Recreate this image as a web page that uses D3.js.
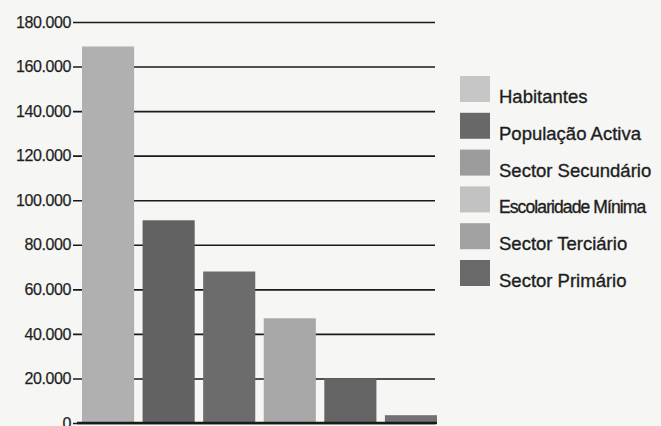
<!DOCTYPE html>
<html>
<head>
<meta charset="utf-8">
<script src="https://cdn.jsdelivr.net/npm/d3@7"></script>
<style>
  body { margin: 0; background: #f6f6f4; }
  text { font-family: "Liberation Sans", Arial, sans-serif; fill: #1e1e1e; }
</style>
</head>
<body>
<svg id="chart" width="661" height="426"></svg>
<script>
const categories = ["Habitantes", "População Activa", "Sector Secundário", "Escolaridade Mínima", "Sector Terciário", "Sector Primário"];
const values = [169000, 91000, 68000, 47000, 20000, 3500];
const tickValues = [0, 20000, 40000, 60000, 80000, 100000, 120000, 140000, 160000, 180000];
const barColors = ["#b0b0b0", "#626262", "#6c6c6c", "#a8a8a8", "#646464", "#727272"];
const legendColors = ["#c6c6c6", "#686868", "#9c9c9c", "#c2c2c2", "#a2a2a2", "#6a6a6a"];

const svg = d3.select("#chart");
const width = +svg.attr("width");
const height = +svg.attr("height");

const margin = { top: 22, bottom: 3, left: 73, right: 224 };

const x = d3.scaleBand()
  .domain(categories)
  .range([82, 437])
  .paddingInner(0.14)
  .paddingOuter(0);

const y = d3.scaleLinear()
  .domain([0, 180000])
  .range([height - margin.bottom, margin.top]);

const fmt = (d) => d === 0 ? "0" : d3.format(",")(d).replace(/,/g, ".");

// grid lines (drawn first, bars go on top)
const yAxis = d3.axisLeft(y)
  .tickValues(tickValues)
  .tickFormat(fmt)
  .tickSize(-(435 - margin.left))
  .tickPadding(2);

const yAxisG = svg.append("g")
  .attr("transform", `translate(${margin.left},0)`)
  .call(yAxis);
yAxisG.select(".domain").remove();
yAxisG.selectAll("line").attr("stroke", "#1a1a1a").attr("stroke-width", 1.6);
yAxisG.selectAll("text")
  .attr("font-size", 16)
  .attr("letter-spacing", -0.4)
  .attr("fill", "#2a2a2a")
  .attr("stroke", "#2a2a2a")
  .attr("stroke-width", 0.25);

// bars
svg.append("g")
  .selectAll("rect")
  .data(values)
  .join("rect")
  .attr("x", (d, i) => x(categories[i]))
  .attr("y", (d) => y(d))
  .attr("width", x.bandwidth())
  .attr("height", (d) => y(0) - y(d))
  .attr("fill", (d, i) => barColors[i]);

// baseline
svg.append("line")
  .attr("x1", margin.left + 4)
  .attr("x2", 437)
  .attr("y1", y(0))
  .attr("y2", y(0))
  .attr("stroke", "#1a1a1a")
  .attr("stroke-width", 2.5);

// legend
const legend = svg.append("g").attr("transform", "translate(460,76)");
const item = legend.selectAll("g")
  .data(categories)
  .join("g")
  .attr("transform", (d, i) => `translate(0,${i * 36.8})`);

item.append("rect")
  .attr("width", 30)
  .attr("height", 26)
  .attr("fill", (d, i) => legendColors[i]);

item.append("text")
  .attr("x", 39)
  .attr("y", 21)
  .attr("dy", "0.32em")
  .attr("font-size", (d) => d === "Escolaridade Mínima" ? 17.5 : 18.5)
  .attr("letter-spacing", (d) => d === "Escolaridade Mínima" ? -0.9 : 0)
  .attr("stroke", "#1e1e1e")
  .attr("stroke-width", 0.35)
  .text((d) => d);
</script>
</body>
</html>
